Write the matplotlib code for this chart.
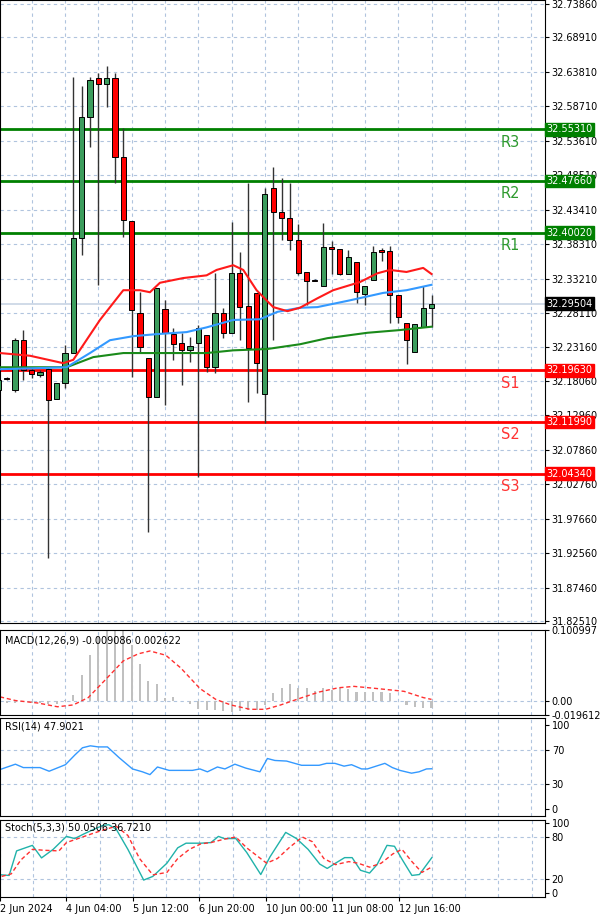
import matplotlib.pyplot as plt
import numpy as np

# candles (index 0..52)
opens = [32.167,32.185,32.167,32.241,32.197,32.189,32.198,32.154,32.178,32.222,32.392,32.571,32.629,32.620,32.629,32.512,
         32.417,32.281,32.215,32.157,32.287,32.250,32.237,32.226,32.237,32.249,32.201,32.281,32.252,32.340,32.292,32.311,
         32.161,32.466,32.431,32.422,32.389,32.342,32.330,32.321,32.379,32.376,32.339,32.357,32.309,32.330,32.374,32.373,
         32.308,32.266,32.224,32.261,32.289]
closes = [32.182,32.184,32.241,32.197,32.191,32.194,32.152,32.178,32.222,32.392,32.571,32.626,32.620,32.629,32.512,32.419,
          32.286,32.231,32.157,32.318,32.252,32.235,32.226,32.232,32.259,32.201,32.281,32.252,32.340,32.290,32.229,32.207,
          32.457,32.431,32.422,32.389,32.340,32.329,32.329,32.379,32.376,32.339,32.364,32.312,32.321,32.372,32.372,32.308,
          32.275,32.241,32.265,32.289,32.295]
highs = [32.185,32.187,32.244,32.256,32.200,32.197,32.200,32.178,32.234,32.630,32.617,32.630,32.636,32.647,32.636,32.555,
         32.417,32.312,32.215,32.318,32.300,32.259,32.252,32.246,32.264,32.249,32.340,32.289,32.416,32.372,32.474,32.311,
         32.466,32.497,32.481,32.474,32.413,32.342,32.332,32.414,32.388,32.376,32.374,32.357,32.321,32.380,32.377,32.380,
         32.308,32.266,32.265,32.321,32.308]
lows = [32.164,32.182,32.164,32.182,32.185,32.187,31.919,32.154,32.170,32.222,32.367,32.527,32.323,32.586,32.474,32.394,
        32.187,32.224,31.957,32.157,32.145,32.212,32.175,32.209,32.039,32.194,32.192,32.244,32.252,32.241,32.150,32.163,
        32.118,32.241,32.389,32.374,32.337,32.293,32.329,32.321,32.339,32.337,32.339,32.296,32.293,32.330,32.358,32.266,
        32.266,32.206,32.224,32.261,32.261]

# moving averages (index, price)
ma_red_k = [0.2,3.8,7.8,9.0,12.2,15,17,18.2,19.4,22.2,25,26.2,28.2,29.4,31,33,34.7,36.2,38.3,40.2,43.4,45.5,47,49,51,52]
ma_red = [32.222,32.218,32.207,32.212,32.271,32.315,32.315,32.312,32.326,32.333,32.337,32.345,32.352,32.345,32.315,
          32.290,32.284,32.289,32.303,32.315,32.327,32.340,32.345,32.342,32.348,32.339]
ma_blue_k = [0.2,8.2,11,13.4,16.2,19,22.6,25,28.2,31.4,33.5,36.2,38.3,42.2,46.2,49,52]
ma_blue = [32.198,32.201,32.222,32.241,32.247,32.250,32.253,32.260,32.271,32.272,32.283,32.289,32.290,32.300,32.311,
           32.315,32.323]
ma_green_k = [0.2,3.8,8.2,11.4,15,19,25,28.2,32.3,36.2,39.5,44.3,48.2,52]
ma_green = [32.201,32.201,32.201,32.216,32.222,32.222,32.222,32.226,32.228,32.235,32.244,32.252,32.256,32.261]

levels = {'R3': 32.5531, 'R2': 32.4766, 'R1': 32.4002, 'S1': 32.1963, 'S2': 32.1199, 'S3': 32.0434}
last_price = 32.29504
price_ticks = [32.73860,32.68910,32.63810,32.58710,32.53610,32.48510,32.43410,32.38310,32.33210,32.28110,32.23160,
               32.18060,32.12960,32.07860,32.02760,31.97660,31.92560,31.87460,31.82510]

macd_hist = [-0.004,-0.003,-0.002,-0.001,-0.002,-0.003,-0.004,-0.004,0.002,0.009,0.037,0.065,0.091,0.11,0.11,0.11,
             0.080,0.052,0.028,0.024,0.005,0.006,0.0,-0.004,-0.011,-0.012,-0.013,-0.014,-0.015,-0.014,-0.013,-0.012,
             -0.005,0.011,0.018,0.024,0.018,0.019,0.015,0.018,0.016,0.018,0.017,0.013,0.013,0.013,0.013,0.012,0.0,
             -0.005,-0.008,-0.009,-0.009]
macd_sig_k = [0.2,2.05,4.8,7.1,9.0,10.8,12.7,15,16.8,18.2,20.1,21.9,24.2,26.1,27.9,30.2,32.1,33.9,36.2,38.5,40.8,42.7,
              45.4,48.7,51,52]
macd_sig = [0.0062,0.0010,-0.0026,-0.0078,-0.0052,0.0052,0.0285,0.057,0.067,0.071,0.065,0.047,0.018,0.0026,-0.0052,
            -0.0114,-0.0114,-0.0052,0.0041,0.013,0.019,0.021,0.018,0.014,0.0052,0.0026]

rsi_k = [0.2,2.05,3.0,5.0,6.1,8.05,9.2,10.1,11.05,12,13.1,14.5,16.1,17.3,18.2,19.1,20.5,23.3,24.2,25.1,26.3,27.2,28.4,
         29.7,31.4,32.3,33.2,34.6,36.4,38.5,39.4,40.4,41.5,42.4,43.6,44.3,46.4,47.3,48.2,49.6,50.5,51.4,52]
rsi = [47,53.3,49.3,49.3,45,52.7,64.3,72.7,75,73.7,73.7,61,47.7,44.3,41,50,46,46,47.7,44.3,50,47.7,53.3,48.7,44.3,
       60,57.7,57,52,52,54.3,54.3,51,52.7,47.7,47.7,54.3,49.3,46,42.7,44.3,47.7,47.9]

stoch_k_x = [0.2,1.1,2.0,3.9,5.0,6.4,8.0,9.0,10.1,11.3,12.4,13.1,14.0,15.4,17.3,18.4,20.1,21.4,22.4,24.2,25.4,26.3,
             27.0,28.4,29.7,31.4,32.5,34.4,35.7,37.1,38.5,39.4,40.4,41.5,42.4,43.4,44.5,45.4,46.6,47.5,48.4,49.6,50.5,52]
stoch_k = [25.4,24.6,59.6,67.5,49.6,61.8,80.3,77.2,83.8,90.4,96,97,90.4,61.8,18,23.2,42.1,64,70.6,70.6,71.5,80.3,
           77.2,77.2,57.5,25.9,50.9,86,77.2,61.8,40.8,34.6,42.1,50,50,32,28,40,67.5,66.2,47.8,24.6,25.9,50.05]
stoch_d_x = [0.2,1.35,2.5,3.9,5.3,7.1,8.0,9.4,11.0,12.7,14.0,15.4,16.8,18.4,20.1,21.4,22.8,24.2,25.4,27.0,28.4,29.7,
             32.1,33.4,34.8,36.4,37.6,39.0,40.4,42.0,43.1,44.5,45.9,47.3,48.4,49.6,50.8,52]
stoch_d = [23.2,26.8,46.5,61.8,60.5,59.6,71.5,77.2,83.8,90.4,94.7,81.6,48.7,25.4,28.9,48.7,61.8,69.7,71.5,76.3,79.4,
           64,42.1,48.7,64,79.4,72.8,48.7,40,44.3,42.1,36.4,42.1,55.3,61.8,44.3,28.9,36.7]

time_k = [0, 8, 16, 24, 32, 40, 48]
time_labels = ['2 Jun 2024', '4 Jun 04:00', '5 Jun 12:00', '6 Jun 20:00', '10 Jun 00:00', '11 Jun 08:00', '12 Jun 16:00']

XL = (0.2, 65.6)
GRID = '#b0c4de'
fig = plt.figure(figsize=(6, 9.18), dpi=100)
W = 0.908
ax = fig.add_axes([0, 0.321, W, 0.679])
ax1 = fig.add_axes([0, 0.221, W, 0.093])
ax2 = fig.add_axes([0, 0.111, W, 0.107])
ax3 = fig.add_axes([0, 0.023, W, 0.084])

for a in (ax, ax1, ax2, ax3):
    a.set_xlim(*XL)
    a.yaxis.tick_right()
    a.tick_params(axis='y', labelsize=7, length=3, pad=2)
    a.set_xticks([])
    for k in np.arange(0, 66, 4):
        a.axvline(k, color=GRID, ls=(0, (3, 3)), lw=0.8, zorder=0)
    for s in a.spines.values():
        s.set_color('black')

# main chart
ax.set_ylim(31.822, 32.7445)
ax.set_yticks(price_ticks)
ax.set_yticklabels(['%.5f' % t for t in price_ticks])
for t in price_ticks:
    ax.axhline(t, color=GRID, ls=(0, (3, 3)), lw=0.8, zorder=0)
ax.axhline(last_price, color='#c8d4e4', lw=1.2, zorder=1)
idx = np.arange(len(opens))
for i in idx:
    up = closes[i] >= opens[i]
    ax.vlines(i, lows[i], highs[i], color='#333333', lw=1, zorder=3)
    lo, hi = min(opens[i], closes[i]), max(opens[i], closes[i])
    ax.bar(i, max(hi - lo, 0.0008), bottom=lo, width=0.62,
           color='#3c9d5d' if up else '#ff0000', edgecolor='black', lw=0.7, zorder=4)
ax.plot(ma_green_k, ma_green, color='#1a8a1a', lw=1.5, zorder=5)
ax.plot(ma_blue_k, ma_blue, color='#3399ff', lw=1.5, zorder=5)
ax.plot(ma_red_k, ma_red, color='#ff1a1a', lw=1.5, zorder=5)
for name, v in levels.items():
    col = '#008000' if name[0] == 'R' else '#ff0000'
    tcol = '#2e9a2e' if name[0] == 'R' else '#ff3333'
    ax.axhline(v, color=col, lw=2, zorder=2)
    ax.text(61.5, v - 0.008, name, color=tcol, fontsize=10.5, ha='center', va='top')
    ax.text(1.003, v, '%.5f' % v, transform=ax.get_yaxis_transform(), fontsize=7, color='white',
            va='center', ha='left', bbox=dict(boxstyle='square,pad=0.15', fc=col, ec=col), zorder=10)
ax.text(1.003, last_price, '%.5f' % last_price, transform=ax.get_yaxis_transform(), fontsize=7, color='white',
        va='center', ha='left', bbox=dict(boxstyle='square,pad=0.15', fc='black', ec='black'), zorder=10)

# MACD
ax1.set_ylim(-0.0196, 0.101)
ax1.bar(idx, macd_hist, width=0.25, color='#c0c0c0')
ax1.plot(macd_sig_k, macd_sig, color='#ff3030', ls=(0, (3, 2)), lw=1)
ax1.axhline(0, color=GRID, ls=(0, (3, 3)), lw=0.8, zorder=0)
ax1.set_yticks([0.100997, 0.0, -0.019612])
ax1.set_yticklabels(['0.100997', '0.00', '-0.019612'])
ax1.text(0.01, 0.93, 'MACD(12,26,9) -0.009086 0.002622', transform=ax1.transAxes, fontsize=7, va='top')

# RSI
ax2.set_ylim(-8, 108)
ax2.plot(rsi_k, rsi, color='#3399ff', lw=1)
for v in (70, 30):
    ax2.axhline(v, color=GRID, ls=(0, (3, 3)), lw=0.8, zorder=0)
ax2.set_yticks([100, 70, 30, 0])
ax2.text(0.01, 0.96, 'RSI(14) 47.9021', transform=ax2.transAxes, fontsize=7, va='top')

# Stochastic
ax3.set_ylim(-6, 104)
ax3.plot(stoch_k_x, stoch_k, color='#20b2aa', lw=1)
ax3.plot(stoch_d_x, stoch_d, color='#ff3030', ls=(0, (3, 2)), lw=1)
for v in (80, 20):
    ax3.axhline(v, color=GRID, ls=(0, (3, 3)), lw=0.8, zorder=0)
ax3.set_yticks([100, 80, 20, 0])
ax3.text(0.01, 0.96, 'Stoch(5,3,3) 50.0506 36.7210', transform=ax3.transAxes, fontsize=7, va='top')
ax3.set_xticks(time_k)
ax3.set_xticklabels(time_labels, fontsize=7, ha='left')
ax3.tick_params(axis='x', length=3, pad=2)
ax3.get_xticklabels()[0].set_x(-3)

fig.savefig('out.png', dpi=100)
